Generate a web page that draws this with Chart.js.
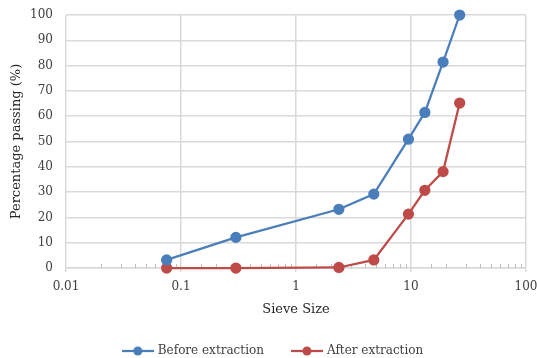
<!DOCTYPE html>
<html>
<head>
<meta charset="utf-8">
<script src="https://cdn.jsdelivr.net/npm/chart.js@4.4.0/dist/chart.umd.min.js"></script>
<style>
  html, body { margin: 0; padding: 0; background: #fff; }
  #wrap { width: 537px; height: 358px; }
</style>
</head>
<body>
<div id="wrap"><canvas id="myChart" width="537" height="358"></canvas></div>
<script>
// sieve sizes (mm)
var sieveSize = [0.075, 0.3, 2.36, 4.75, 9.5, 13.2, 19, 26.5];
// percentage passing
var beforeExtraction = [3.2, 12.1, 23.2, 29.2, 50.9, 61.5, 81.4, 100];
var afterExtraction = [0, 0, 0.2, 3.2, 21.3, 30.7, 38.1, 65.2];
var xTickLabels = [0.01, 0.1, 1, 10, 100];

var blu = '#4a7ebb';
var rosso = '#be4b48';
var griglia = '#d9d9d9';
var font = 'DejaVu Serif';

function punti(xs, ys) {
  var out = [];
  for (var i = 0; i < xs.length; i++) {
    out.push({x: xs[i], y: ys[i]});
  }
  return out;
}

function isDecade(v) {
  var l = Math.log10(v);
  return Math.abs(l - Math.round(l)) < 1e-9;
}

// legend marker: line with a dot in the middle
function marker(col) {
  var c = document.createElement('canvas');
  c.width = 32; c.height = 12;
  var g = c.getContext('2d');
  g.strokeStyle = col;
  g.lineWidth = 2.25;
  g.beginPath(); g.moveTo(0, 6); g.lineTo(32, 6); g.stroke();
  g.fillStyle = col;
  g.beginPath(); g.arc(16, 6, 4.5, 0, Math.PI * 2); g.fill();
  return c;
}

// small minor ticks on the x axis, pointing up
var minorTicks = {
  id: 'minorTicks',
  afterLayout: function(chart) {
    // legend sits a bit right of center in the original
    chart.legend.left += 6;
    chart.legend.right += 6;
  },
  beforeDatasetsDraw: function(chart) {
    var sx = chart.scales.x;
    var ctx = chart.ctx;
    var bottom = chart.chartArea.bottom;
    ctx.save();
    ctx.strokeStyle = '#bfbfbf';
    ctx.lineWidth = 1;
    sx.ticks.forEach(function(t) {
      if (isDecade(t.value)) return;
      var px = Math.round(sx.getPixelForValue(t.value)) + 0.5;
      ctx.beginPath();
      ctx.moveTo(px, bottom);
      ctx.lineTo(px, bottom - 4);
      ctx.stroke();
    });
    ctx.restore();
  }
};

var ctx = document.getElementById('myChart');
var chart = new Chart(ctx, {
  type: 'line',
  data: {
    datasets: [{
      label: 'Before extraction',
      data: punti(sieveSize, beforeExtraction),
      borderColor: blu,
      backgroundColor: blu,
      borderWidth: 2.25,
      pointRadius: 4.5,
      clip: false,
      tension: 0
    }, {
      label: 'After extraction',
      data: punti(sieveSize, afterExtraction),
      borderColor: rosso,
      backgroundColor: rosso,
      borderWidth: 2.25,
      pointRadius: 4.5,
      clip: false,
      tension: 0
    }]
  },
  options: {
    responsive: false,
    animation: false,
    layout: { autoPadding: false, padding: { left: 9, right: 11, top: 15, bottom: -9 } },
    elements: { point: { pointStyle: 'circle', hoverRadius: 4.5 } },
    plugins: {
      tooltip: { enabled: false },
      legend: {
        position: 'bottom',
        labels: {
          usePointStyle: true,
          pointStyleWidth: 28,
          padding: 29,
          color: '#404040',
          font: { family: font, size: 12 },
          generateLabels: function(ch) {
            return ch.data.datasets.map(function(ds, i) {
              return {
                text: ds.label,
                pointStyle: marker(ds.borderColor),
                fillStyle: ds.borderColor,
                strokeStyle: ds.borderColor,
                lineWidth: 0,
                fontColor: '#404040',
                datasetIndex: i
              };
            });
          }
        }
      }
    },
    scales: {
      x: {
        type: 'logarithmic',
        min: 0.01,
        max: 100,
        title: {
          display: true,
          text: 'Sieve Size',
          color: '#262626',
          font: { family: font, size: 13 },
          padding: { top: -1, bottom: -1 }
        },
        grid: {
          color: function(c) { return c.tick && isDecade(c.tick.value) ? griglia : 'rgba(0,0,0,0)'; },
          tickColor: function(c) { return c.tick && isDecade(c.tick.value) ? griglia : 'rgba(0,0,0,0)'; },
          lineWidth: 1.5,
          drawTicks: true,
          tickLength: 4
        },
        border: { color: griglia, width: 1.5 },
        ticks: {
          autoSkip: false,
          maxRotation: 0,
          padding: 8,
          color: '#404040',
          font: { family: font, size: 12 },
          callback: function(v) {
            for (var i = 0; i < xTickLabels.length; i++) {
              if (Math.abs(v - xTickLabels[i]) < 1e-9) return String(xTickLabels[i]);
            }
            return '';
          }
        },
        afterFit: function(s) { s.paddingLeft = 0; s.paddingRight = 0; }
      },
      y: {
        min: 0,
        max: 100,
        title: {
          display: true,
          text: 'Percentage passing (%)',
          color: '#262626',
          font: { family: font, size: 13 },
          padding: { top: 0, bottom: 4 }
        },
        grid: { color: griglia, lineWidth: 1.5, drawTicks: false },
        border: { display: false },
        ticks: {
          stepSize: 10,
          padding: 13,
          color: '#404040',
          font: { family: font, size: 12 }
        },
        afterFit: function(s) { s.width = 57; s.paddingTop = 0; s.paddingBottom = 0; }
      }
    }
  },
  plugins: [minorTicks]
});
</script>
</body>
</html>
